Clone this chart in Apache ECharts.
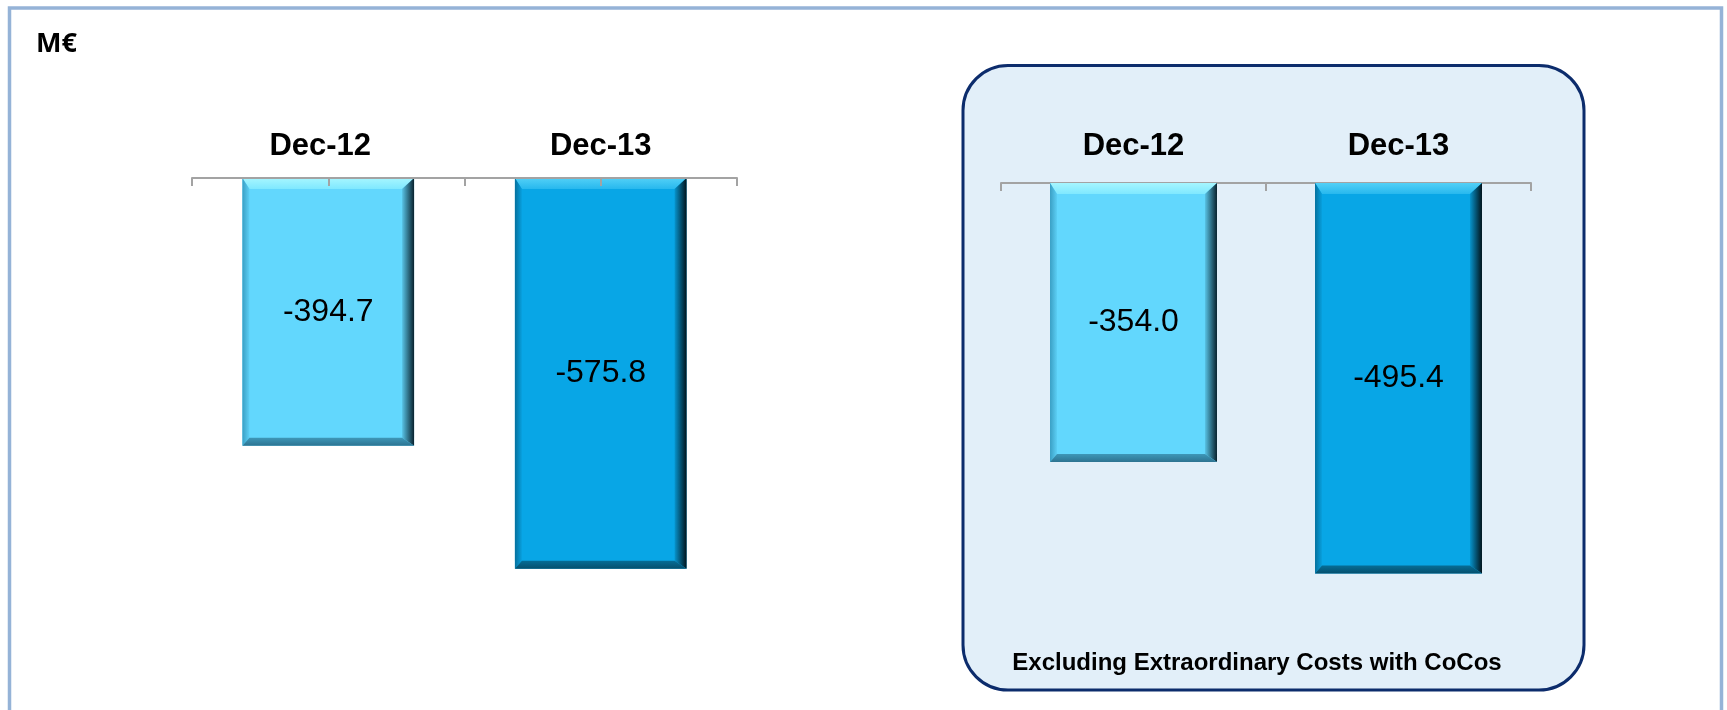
<!DOCTYPE html>
<html>
<head>
<meta charset="utf-8">
<title>Net Interest – M€</title>
<script src="https://cdn.jsdelivr.net/npm/echarts@6/dist/echarts.min.js"></script>
<style>
  html, body { margin: 0; padding: 0; background: #ffffff; }
  #chart { width: 1727px; height: 710px; }
</style>
</head>
<body>
<div id="chart"></div>
<script>
// Period labels shared by both panels
const categories = ['Dec-12', 'Dec-13'];
// Reported figures (M€)
const reportedValues = [-394.7, -575.8];
// Figures excluding extraordinary costs with CoCos (M€)
const adjustedValues = [-354.0, -495.4];
const unitLabel = 'M€';
const boxNote = 'Excluding Extraordinary Costs with CoCos';

// Face / bevel shades per period
const palettes = [
  { face: '#62d7fd', top: ['#a6f6ff', '#7fe8ff'], left: ['#3a9fc4', '#5ccff5'], right: ['#58c3e6', '#09222e'], bottom: ['#3d97b8', '#2d7391'] },
  { face: '#08a6e6', top: ['#52d0f7', '#27b8ee'], left: ['#05719e', '#08a0de'], right: ['#0794cd', '#02141c'], bottom: ['#066d96', '#054f6d'] }
];

const ARIAL = '"Liberation Sans", Arial, sans-serif';

// Bevelled bar: a flat face plus four trapezoid edges
function bevelBar(params, api) {
  const idx = api.value(0);
  const val = api.value(1);
  const p0 = api.coord([idx, 0]);
  const p1 = api.coord([idx, val]);
  const w = api.size([1, 0])[0] * 0.63;
  const x0 = p0[0] - w / 2, x1 = p0[0] + w / 2;
  const y0 = p0[1], y1 = p1[1];
  const T = 11, R = 12, B = 8, L = 7;
  const pal = palettes[idx];
  const lin = (h, stops) => ({
    type: 'linear', x: 0, y: 0, x2: h ? 1 : 0, y2: h ? 0 : 1,
    colorStops: [{ offset: 0, color: stops[0] }, { offset: 1, color: stops[1] }]
  });
  return {
    type: 'group',
    children: [
      {
        type: 'rect',
        shape: { x: x0, y: y0, width: w, height: y1 - y0 },
        style: { fill: pal.face },
        textContent: {
          style: { text: val.toFixed(1), fontSize: 32, fontFamily: ARIAL, fill: '#000000' }
        },
        textConfig: { position: 'inside' }
      },
      {
        type: 'polygon',
        shape: { points: [[x0, y0], [x1, y0], [x1 - R, y0 + T], [x0 + L, y0 + T]] },
        style: { fill: lin(false, pal.top) }
      },
      {
        type: 'polygon',
        shape: { points: [[x0, y0], [x0 + L, y0 + T], [x0 + L, y1 - B], [x0, y1]] },
        style: { fill: lin(true, pal.left) }
      },
      {
        type: 'polygon',
        shape: { points: [[x1, y0], [x1, y1], [x1 - R, y1 - B], [x1 - R, y0 + T]] },
        style: { fill: lin(true, pal.right) }
      },
      {
        type: 'polygon',
        shape: { points: [[x0, y1], [x0 + L, y1 - B], [x1 - R, y1 - B], [x1, y1]] },
        style: { fill: lin(false, pal.bottom) }
      }
    ]
  };
}

const axisGrey = { color: '#a3a3a3', width: 2 };
const labelFont = { fontSize: 31, fontWeight: 'bold', fontFamily: ARIAL, color: '#000000' };
const periodLabel = Object.assign({ margin: 21 }, labelFont);
// Left panel: first period label sits a little left of its bar
const periodLabelLeft = Object.assign({}, labelFont, {
  margin: 16,
  formatter: (v, i) => (i === 0 ? '{shift|' + v + '}' : '{plain|' + v + '}'),
  rich: {
    shift: Object.assign({ padding: [0, 16, 0, 0] }, labelFont),
    plain: Object.assign({}, labelFont)
  }
});

const chart = echarts.init(document.getElementById('chart'));
chart.setOption({
  animation: false,
  backgroundColor: '#ffffff',
  grid: [
    { left: 192, top: 178, width: 545, height: 475 },
    { left: 1001, top: 183, width: 530, height: 473 }
  ],
  xAxis: [
    {
      gridIndex: 0, type: 'category', data: categories, position: 'top',
      axisLine: { show: false }, axisTick: { show: false },
      axisLabel: periodLabelLeft
    },
    {
      // line and tick marks for the left panel (boundaries and centres)
      gridIndex: 0, type: 'value', min: 0, max: 2, interval: 0.5, position: 'top', z: 5,
      axisLine: { show: true, lineStyle: axisGrey },
      axisTick: { show: true, inside: true, length: 8, lineStyle: axisGrey },
      axisLabel: { show: false }, splitLine: { show: false }
    },
    {
      gridIndex: 1, type: 'category', data: categories, position: 'top',
      axisLine: { show: true, lineStyle: axisGrey },
      axisTick: { show: true, inside: true, length: 8, lineStyle: axisGrey },
      axisLabel: periodLabel
    }
  ],
  yAxis: [
    { gridIndex: 0, type: 'value', min: -700, max: 0, show: false },
    { gridIndex: 1, type: 'value', min: -600, max: 0, show: false }
  ],
  series: [
    {
      type: 'custom', xAxisIndex: 0, yAxisIndex: 0, renderItem: bevelBar,
      data: reportedValues.map((v, i) => [i, v])
    },
    {
      type: 'custom', xAxisIndex: 2, yAxisIndex: 1, renderItem: bevelBar,
      data: adjustedValues.map((v, i) => [i, v])
    }
  ],
  graphic: [
    {
      type: 'rect', z: -10, silent: true,
      shape: { x: 9.5, y: 8, width: 1712, height: 760 },
      style: { fill: 'none', stroke: '#95b3d7', lineWidth: 3.5 }
    },
    {
      type: 'rect', z: -5, silent: true,
      shape: { x: 963, y: 65.5, width: 621, height: 624.5, r: 45 },
      style: { fill: '#e2eff9', stroke: '#0c2c6c', lineWidth: 3 }
    },
    {
      type: 'text', z: 10, silent: true,
      style: {
        text: boxNote, x: 1257, y: 675, textAlign: 'center', textVerticalAlign: 'bottom',
        fontSize: 24, fontWeight: 'bold', fontFamily: ARIAL, fill: '#000000'
      }
    },
    {
      type: 'text', z: 10, silent: true,
      style: {
        text: unitLabel, x: 36, y: 31, textAlign: 'left', textVerticalAlign: 'top',
        fontSize: 27, fontWeight: 'bold', fontFamily: '"Open Sans", sans-serif', fill: '#000000'
      }
    }
  ]
});
</script>
</body>
</html>
